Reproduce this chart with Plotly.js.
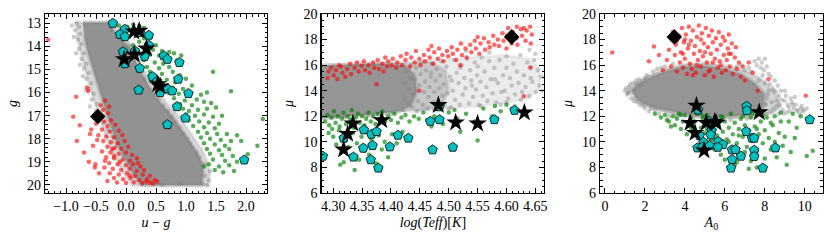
<!DOCTYPE html>
<html><head><meta charset="utf-8">
<script src="https://cdn.plot.ly/plotly-3.0.1.min.js"></script>
<style>html,body{margin:0;padding:0;background:#fff}#chart{width:831px;height:240px}</style>
</head><body><div id="chart"></div>
<script>
// ---------- Panel 1 : u-g vs g ----------
const p1GrayHalo = [[-0.86,12.95],[-0.2,12.95],[-0.05,13.5],[0.12,14.0],[0.22,14.5],[0.3,15.0],[0.42,15.5],[0.55,16.0],[0.7,16.5],[0.88,17.0],[1.02,17.5],[1.15,18.0],[1.28,18.5],[1.36,19.0],[1.4,19.5],[1.38,20.05],[0.1,20.05],[-0.05,19.5],[-0.15,19.0],[-0.25,18.5],[-0.33,18.0],[-0.4,17.5],[-0.46,17.0],[-0.52,16.5],[-0.58,16.0],[-0.64,15.5],[-0.69,15.0],[-0.74,14.5],[-0.79,14.0],[-0.83,13.5]];
const p1GrayCore = [[-0.72,12.98],[-0.28,12.98],[-0.16,13.5],[0.04,14.0],[0.14,14.5],[0.21,15.0],[0.34,15.5],[0.44,16.0],[0.59,16.5],[0.76,17.0],[0.9,17.5],[1.03,18.0],[1.16,18.5],[1.26,19.0],[1.29,19.5],[1.26,20.0],[0.26,20.0],[0.11,19.5],[0.01,19.0],[-0.09,18.5],[-0.18,18.0],[-0.25,17.5],[-0.31,17.0],[-0.38,16.5],[-0.44,16.0],[-0.5,15.5],[-0.55,15.0],[-0.61,14.5],[-0.66,14.0],[-0.7,13.5]];
const p1GrayPts = [[-0.82,13.0],[-0.78,13.15],[-0.85,13.3],[-0.76,13.45],[-0.80,13.7],[-0.74,13.9],[-0.78,14.1],[-0.70,14.3],[-0.74,14.55],[-0.66,14.75],[-0.70,14.95],[-0.62,15.15],[-0.66,15.4],[-0.58,15.6],[-0.62,15.85],[-0.54,16.05],[-0.57,16.3],[-0.48,16.5],[-0.50,16.8],[-0.42,17.0],[-0.38,17.3],[-0.30,17.6],[-0.22,17.9],[-0.15,18.3],[-0.05,18.7],[1.32,19.6],[1.38,19.8],[1.28,19.95],[1.40,19.4],[1.22,18.8],[1.10,18.4],[0.95,17.8],[1.02,18.0],[0.82,17.3],[0.70,16.8],[0.55,16.3],[0.45,15.9],[0.30,15.4],[0.25,14.9],[0.18,14.5],[0.05,14.0],[-0.15,13.6],[-0.25,13.3],[-0.9,13.1],[-0.87,13.6],[-0.83,14.3],[-0.77,14.8],[-0.72,15.3],[-0.67,15.9],[-0.6,16.6],[1.35,20.0],[0.9,19.95],[0.6,19.98],[1.3,19.1],[1.18,18.6],[1.06,18.2],[0.88,17.55],[0.76,17.05],[0.62,16.55],[0.48,16.1]];
const p1Red = [[-1.30,13.72],[-0.83,16.18],[-0.65,15.78],[-0.63,15.93],[-0.77,17.42],[-0.82,18.1],[-0.51,19.1],[-0.31,19.83],[-0.88,17.05],[-0.42,16.55],[-0.38,16.75],[-0.30,16.9],[-0.44,17.15],[-0.36,17.25],[-0.25,17.2],[-0.50,17.35],[-0.31,17.45],[-0.18,17.4],[-0.40,17.6],[-0.27,17.7],[-0.12,17.65],[-0.46,17.85],[-0.33,17.9],[-0.20,17.95],[-0.06,17.85],[-0.38,18.1],[-0.25,18.15],[-0.14,18.2],[-0.02,18.1],[-0.31,18.35],[-0.19,18.4],[-0.08,18.45],[0.04,18.35],[-0.40,18.55],[-0.26,18.6],[-0.12,18.65],[0.00,18.6],[0.10,18.7],[-0.33,18.8],[-0.20,18.85],[-0.05,18.9],[0.07,18.95],[0.18,18.85],[-0.28,19.05],[-0.14,19.1],[0.00,19.15],[0.12,19.1],[0.24,19.2],[-0.36,19.25],[-0.22,19.3],[-0.08,19.35],[0.06,19.3],[0.18,19.4],[0.30,19.35],[-0.27,19.5],[-0.12,19.55],[0.02,19.5],[0.15,19.6],[0.28,19.55],[0.40,19.6],[-0.20,19.7],[-0.05,19.75],[0.08,19.7],[0.22,19.8],[0.35,19.75],[0.48,19.8],[-0.15,19.9],[0.00,19.92],[0.13,19.88],[0.27,19.93],[0.40,19.9],[0.52,19.85],[-0.60,17.8],[-0.55,18.3],[-0.48,18.05],[-0.62,19.0],[-0.45,19.5],[-0.52,19.25],[-0.70,18.6],[-0.58,17.6],[-0.35,16.35],[-0.28,16.6],[-0.20,18.75],[0.20,19.05],[0.34,19.85],[0.45,19.95],[-0.10,19.0],[-0.35,18.95],[0.06,19.6],[-0.23,18.45]];
const p1Green = [[-0.22,13.05],[-0.12,13.1],[0.02,13.15],[0.12,13.05],[0.22,13.12],[0.30,13.2],[-0.05,13.3],[0.10,13.4],[0.25,13.35],[0.35,13.45],[0.18,13.55],[0.05,13.6],[0.30,13.65],[0.42,13.6],[0.22,13.8],[0.38,13.85],[0.50,13.95],[0.12,13.95],[0.30,14.05],[0.45,14.15],[0.60,14.2],[0.72,14.25],[0.20,14.25],[0.40,14.35],[0.55,14.4],[0.80,14.3],[0.92,14.4],[0.68,14.5],[0.85,14.6],[0.30,14.6],[0.48,14.7],[0.62,14.75],[0.35,14.9],[0.55,14.95],[0.72,14.9],[0.40,15.1],[0.60,15.2],[0.78,15.1],[0.90,15.25],[0.50,15.35],[0.68,15.45],[0.82,15.55],[1.45,15.1],[1.00,15.4],[0.58,15.6],[0.62,15.75],[0.78,15.8],[0.95,15.85],[1.10,15.7],[0.70,16.0],[0.88,16.05],[1.05,16.15],[1.25,16.1],[1.35,16.0],[1.75,15.95],[0.80,16.25],[0.98,16.35],[1.18,16.3],[1.30,16.4],[0.90,16.5],[1.10,16.55],[1.42,16.45],[0.95,16.7],[1.05,16.8],[1.20,16.75],[1.35,16.7],[1.50,16.65],[1.00,16.95],[1.15,17.0],[1.30,16.95],[1.45,17.05],[1.60,17.0],[1.05,17.2],[1.22,17.25],[1.38,17.3],[1.55,17.35],[2.28,17.15],[1.12,17.45],[1.30,17.5],[1.48,17.55],[1.20,17.7],[1.35,17.75],[1.52,17.8],[1.68,17.8],[1.85,17.85],[1.25,17.95],[1.40,18.0],[1.58,18.05],[1.75,18.1],[1.92,18.1],[1.30,18.2],[1.48,18.25],[1.65,18.3],[1.35,18.45],[1.55,18.5],[1.72,18.45],[2.19,18.3],[1.40,18.65],[1.60,18.7],[1.78,18.75],[2.03,18.67],[1.45,18.9],[1.65,18.95],[1.85,19.0],[1.38,19.1],[1.55,19.2],[1.72,19.15],[1.48,19.35],[1.62,19.45],[1.30,19.2],[1.80,19.4]];
const p1Cyan = [[-0.22,13.0],[-0.02,13.26],[-0.10,13.48],[-0.02,13.58],[0.23,13.40],[0.38,13.52],[0.38,13.95],[-0.05,14.23],[0.15,14.20],[0.31,14.44],[-0.02,14.75],[0.23,14.95],[0.63,14.41],[0.69,14.56],[0.89,14.70],[0.44,15.31],[0.52,15.51],[0.87,15.42],[0.21,15.89],[0.57,16.0],[0.69,15.83],[0.77,15.93],[1.04,16.04],[0.85,16.61],[0.99,17.10],[0.69,17.39],[1.97,18.92]];
const p1Star = [[0.13,13.36],[0.22,13.33],[0.34,14.10],[0.14,14.37],[-0.03,14.56],[0.53,15.64],[0.57,15.74]];
const p1Diamond = [[-0.47,17.04]];

// ---------- Panel 2 : log(Teff) vs mu ----------
const p2GrayOuter = [[4.44,12.35],[4.50,12.55],[4.55,12.75],[4.60,13.0],[4.64,13.4],[4.658,14.2],[4.658,15.8],[4.64,16.5],[4.60,16.8],[4.55,16.7],[4.50,16.5],[4.44,16.3]];
const p2GrayInner = [[4.28,11.82],[4.36,12.1],[4.42,12.3],[4.46,12.5],[4.49,12.9],[4.50,14.2],[4.495,15.6],[4.47,16.25],[4.40,16.2],[4.34,16.1],[4.28,16.0]];
const p2GrayCore = [[4.28,11.85],[4.33,12.0],[4.37,12.15],[4.41,12.35],[4.435,12.8],[4.445,14.0],[4.44,15.3],[4.425,16.0],[4.38,16.1],[4.33,16.05],[4.28,15.95]];
const p2GrayPts = [[4.421,12.5],[4.423,13.4],[4.425,14.6],[4.427,15.5],[4.429,13.0],[4.431,14.1],[4.433,15.0],[4.435,16.0],[4.437,12.7],[4.439,13.7],[4.441,14.9],[4.443,15.8],[4.445,12.4],[4.447,13.2],[4.449,14.4],[4.451,15.3],[4.453,16.2],[4.455,12.9],[4.457,13.9],[4.459,14.7],[4.461,15.6],[4.463,12.6],[4.465,13.5],[4.467,14.3],[4.469,15.1],[4.471,16.1],[4.473,13.1],[4.475,13.9],[4.477,14.8],[4.479,15.7],[4.481,12.8],[4.483,14.2],[4.485,15.2],[4.487,16.3],[4.489,13.6],[4.491,14.5],[4.493,12.9],[4.496,15.9],[4.498,13.8],[4.502,15.1],[4.504,12.7],[4.507,14.0],[4.509,16.4],[4.511,13.3],[4.514,15.4],[4.517,14.6],[4.519,12.9],[4.522,16.0],[4.524,13.7],[4.527,15.0],[4.529,14.2],[4.532,16.5],[4.535,13.0],[4.537,15.6],[4.539,14.8],[4.542,13.5],[4.545,16.2],[4.547,14.1],[4.549,15.2],[4.552,12.9],[4.555,14.7],[4.557,16.6],[4.559,13.6],[4.562,15.5],[4.565,14.3],[4.567,13.2],[4.570,16.3],[4.573,14.9],[4.576,13.8],[4.579,15.8],[4.582,13.1],[4.585,14.6],[4.588,16.4],[4.591,13.9],[4.594,15.2],[4.597,14.0],[4.600,16.7],[4.603,13.4],[4.606,15.0],[4.609,14.4],[4.612,16.1],[4.615,13.7],[4.618,15.5],[4.621,14.6],[4.624,16.8],[4.627,13.9],[4.630,15.2],[4.633,14.3],[4.636,16.2],[4.639,13.6],[4.642,15.0],[4.645,14.7],[4.648,16.4],[4.651,13.9],[4.654,15.6],[4.657,14.4],[4.660,15.1],[4.662,14.0],[4.650,16.9],[4.640,17.2],[4.600,13.1],[4.570,17.0],[4.530,17.1],[4.615,12.8],[4.625,13.3],[4.59,12.9],[4.555,12.8],[4.50,12.6],[4.475,12.5],[4.58,14.9],[4.54,14.4],[4.47,15.4],[4.52,15.8],[4.60,15.8],[4.64,15.8],[4.505,14.8],[4.55,15.9],[4.285,12.0],[4.3,15.95],[4.32,11.9],[4.36,12.05],[4.40,12.2]];
const p2Red = [[4.290,15.0],[4.292,15.5],[4.296,15.8],[4.301,15.2],[4.305,15.6],[4.307,14.9],[4.313,15.9],[4.316,15.4],[4.321,15.1],[4.324,15.7],[4.329,16.1],[4.331,15.3],[4.337,15.8],[4.341,16.2],[4.344,15.5],[4.349,15.95],[4.353,16.3],[4.355,15.6],[4.361,16.0],[4.363,15.4],[4.369,16.2],[4.371,15.8],[4.377,16.4],[4.379,15.7],[4.385,16.1],[4.387,15.5],[4.393,15.9],[4.395,16.3],[4.401,16.0],[4.403,16.5],[4.409,15.8],[4.411,16.2],[4.417,16.7],[4.419,16.0],[4.425,16.4],[4.427,16.9],[4.433,15.9],[4.435,16.6],[4.441,16.2],[4.443,17.1],[4.449,16.5],[4.451,16.0],[4.457,16.8],[4.459,16.3],[4.465,17.2],[4.467,16.6],[4.473,16.1],[4.475,17.0],[4.481,16.5],[4.483,17.3],[4.489,16.8],[4.491,16.3],[4.497,17.1],[4.499,16.7],[4.505,17.4],[4.507,16.9],[4.513,16.4],[4.515,17.2],[4.521,17.7],[4.523,16.8],[4.529,17.3],[4.531,16.6],[4.537,17.6],[4.539,17.0],[4.545,17.9],[4.547,17.3],[4.553,16.9],[4.555,17.7],[4.561,18.1],[4.563,17.2],[4.569,17.8],[4.571,17.4],[4.577,18.3],[4.579,17.6],[4.585,18.0],[4.587,17.5],[4.593,18.5],[4.595,17.9],[4.601,18.3],[4.603,18.9],[4.609,17.7],[4.611,18.6],[4.617,18.1],[4.619,17.6],[4.625,18.8],[4.627,18.3],[4.633,17.9],[4.635,18.7],[4.641,19.0],[4.644,18.4],[4.642,17.7],[4.630,18.9],[4.618,19.0],[4.449,14.0],[4.63,13.56],[4.642,15.82],[4.375,14.5],[4.52,16.0],[4.31,16.0],[4.47,17.5],[4.55,18.2],[4.60,17.3],[4.39,16.6]];
const p2Green = [[4.286,11.6],[4.290,12.1],[4.293,11.3],[4.297,11.9],[4.301,12.4],[4.304,11.5],[4.308,12.0],[4.311,11.2],[4.315,11.8],[4.318,12.3],[4.322,11.4],[4.325,12.0],[4.329,11.7],[4.332,12.5],[4.336,11.1],[4.339,11.9],[4.343,12.2],[4.346,11.5],[4.350,12.0],[4.354,11.3],[4.357,11.8],[4.361,12.3],[4.365,11.6],[4.369,12.0],[4.373,11.4],[4.377,12.2],[4.381,11.8],[4.385,12.4],[4.390,11.6],[4.395,12.0],[4.400,11.7],[4.406,12.2],[4.412,11.5],[4.418,11.9],[4.425,12.1],[4.432,11.6],[4.440,12.0],[4.448,11.8],[4.456,12.3],[4.463,11.7],[4.300,10.4],[4.305,9.8],[4.310,10.9],[4.314,9.2],[4.318,8.4],[4.322,10.1],[4.326,9.6],[4.330,8.9],[4.334,10.7],[4.337,7.8],[4.341,9.9],[4.345,8.6],[4.349,10.4],[4.353,9.3],[4.357,10.8],[4.362,9.0],[4.366,10.2],[4.370,9.7],[4.374,8.3],[4.379,10.5],[4.384,9.4],[4.389,10.0],[4.395,8.8],[4.402,10.6],[4.410,9.9],[4.420,10.8],[4.298,11.0],[4.292,10.7],[4.312,8.2],[4.475,12.0],[4.49,11.4],[4.50,12.3],[4.515,11.8],[4.53,12.2],[4.545,11.6],[4.56,12.6],[4.575,12.0],[4.59,12.4],[4.60,12.9],[4.52,10.8],[4.55,10.1],[4.47,11.2],[4.51,12.5],[4.58,12.8],[4.61,12.6]];
const p2Cyan = [[4.282,8.88],[4.318,10.29],[4.335,8.81],[4.353,10.94],[4.352,9.51],[4.366,10.60],[4.375,10.81],[4.368,9.72],[4.365,8.60],[4.378,7.95],[4.398,9.61],[4.412,10.52],[4.430,10.29],[4.468,11.61],[4.484,11.74],[4.484,12.75],[4.472,9.38],[4.507,9.58],[4.579,11.74],[4.614,12.47]];
const p2Star = [[4.318,9.40],[4.325,10.62],[4.334,11.43],[4.384,11.69],[4.482,12.88],[4.512,11.51],[4.55,11.43],[4.631,12.29]];
const p2Diamond = [[4.609,18.21]];

// ---------- Panel 3 : A0 vs mu ----------
const p3GrayMid = [[1.1,14.0],[1.5,14.6],[2.2,15.2],[3.0,15.7],[4.0,16.1],[5.0,16.2],[6.0,16.0],[7.0,15.6],[7.8,15.0],[8.3,14.2],[8.7,13.4],[8.8,12.7],[8.4,12.2],[7.6,11.95],[6.5,11.8],[5.0,11.85],[4.0,11.95],[3.0,12.3],[2.0,12.8],[1.4,13.4]];
const p3GrayCore = [[1.3,14.0],[1.8,14.7],[2.5,15.2],[3.2,15.6],[4.0,15.9],[5.0,15.95],[6.0,15.7],[6.8,15.3],[7.5,14.6],[8.0,13.7],[7.9,12.8],[7.3,12.2],[6.5,12.0],[5.5,11.95],[4.5,12.05],[3.5,12.3],[2.6,12.6],[1.9,13.0],[1.5,13.5]];
const p3GrayPts = [[1.0,14.0],[1.1,13.7],[1.2,14.3],[1.3,13.4],[1.4,14.6],[1.6,13.1],[1.7,14.9],[1.9,12.8],[2.1,15.2],[2.3,12.6],[2.0,15.0],[7.9,12.6],[8.1,13.4],[8.3,12.4],[8.4,14.2],[8.6,12.8],[8.7,13.6],[8.9,12.5],[9.0,13.2],[9.2,12.7],[9.4,12.9],[9.6,12.4],[9.8,12.6],[8.2,15.3],[8.0,16.5],[7.8,15.8],[8.5,14.8],[7.6,16.0],[9.1,12.3],[8.8,14.0],[7.5,16.3],[2.6,15.7],[3.0,15.9],[1.2,13.9],[1.5,14.1],[8.0,14.6],[7.9,15.2],[8.6,13.2],[9.3,13.4],[9.9,12.4],[8.1,12.2],[7.0,15.6],[6.6,15.9],[2.2,12.4],[3.2,12.0],[1.8,14.4],[7.3,15.5],[7.7,14.8],[8.2,14.0],[8.0,13.0],[2.5,12.5],[1.6,14.5],[8.05,12.9],[8.15,13.7],[8.25,14.5],[8.35,13.1],[8.45,12.6],[8.55,13.9],[8.65,14.4],[8.75,12.9],[8.85,13.3],[8.95,12.2],[9.05,13.6],[9.15,12.9],[9.25,12.4],[9.35,13.1],[9.45,12.6],[9.55,12.9],[9.65,12.5],[9.75,12.2],[9.85,12.8],[9.95,12.5],[7.85,16.2],[7.95,15.6],[8.1,15.9],[8.3,15.1],[8.45,14.0],[7.7,16.5],[7.2,15.8],[6.8,16.0],[1.05,14.2],[1.15,13.8],[1.25,14.5],[1.45,13.2],[1.55,14.8],[1.75,12.9],[2.4,15.5],[2.8,15.8],[3.4,16.1],[2.0,12.6],[2.7,12.2],[3.6,12.0],[4.4,11.8],[5.4,11.7],[6.3,11.7],[7.1,11.8],[8.7,12.2],[9.0,14.0],[9.5,13.5],[10.1,12.6]];
const p3Red = [[3.1,16.4],[3.2,17.2],[3.3,15.9],[3.4,18.6],[3.5,16.8],[3.55,17.6],[3.6,15.5],[3.7,18.3],[3.75,16.2],[3.8,17.0],[3.85,18.9],[3.9,15.8],[3.95,17.8],[4.0,16.5],[4.05,18.4],[4.1,15.3],[4.15,17.3],[4.2,19.0],[4.25,16.1],[4.3,17.9],[4.35,15.7],[4.4,18.7],[4.45,16.9],[4.5,17.5],[4.55,15.4],[4.6,18.2],[4.65,16.4],[4.7,19.1],[4.75,17.1],[4.8,15.9],[4.85,18.5],[4.9,16.7],[4.95,17.7],[5.0,15.2],[5.05,18.9],[5.1,16.2],[5.15,17.4],[5.2,18.3],[5.25,15.6],[5.3,16.9],[5.35,18.7],[5.4,17.8],[5.45,15.1],[5.5,16.5],[5.55,18.1],[5.6,17.2],[5.65,15.8],[5.7,18.6],[5.75,16.3],[5.8,17.6],[5.85,15.4],[5.9,18.2],[5.95,16.8],[6.0,17.9],[6.05,15.6],[6.1,16.4],[6.15,17.3],[6.2,18.4],[6.25,15.9],[6.3,16.9],[6.35,17.7],[6.4,15.3],[6.5,16.6],[6.55,17.4],[6.6,15.7],[6.7,16.2],[6.8,15.1],[6.9,15.9],[7.0,14.8],[4.6,16.0],[5.0,17.0],[5.4,16.2],[4.2,17.6],[3.9,16.9],[4.8,18.0],[5.8,16.0],[6.2,16.9],[5.2,15.5],[4.4,15.2],[3.6,17.9],[4.0,18.0],[0.36,16.99],[2.45,17.45],[2.2,16.3],[2.9,15.6],[10.05,13.6],[7.64,14.0],[8.18,14.9],[7.4,15.4],[7.2,16.2],[2.7,16.8]];
const p3Green = [[2.5,12.2],[2.8,11.9],[3.0,12.1],[3.2,11.6],[3.4,12.0],[3.5,11.3],[3.6,11.8],[3.7,12.2],[3.8,11.0],[3.9,11.6],[4.0,12.1],[4.1,10.6],[4.2,11.4],[4.3,11.9],[4.4,10.9],[4.5,11.6],[4.6,12.2],[4.7,10.3],[4.8,11.1],[4.9,11.8],[5.0,10.7],[5.1,12.1],[5.2,11.4],[5.3,10.1],[5.4,11.0],[5.5,11.9],[5.6,10.5],[5.7,11.3],[5.8,12.0],[5.9,10.8],[6.0,11.6],[6.1,10.2],[6.2,11.1],[6.3,12.2],[6.4,10.6],[6.5,11.5],[6.6,9.9],[6.7,11.0],[6.8,11.8],[6.9,10.4],[7.0,11.3],[7.1,9.6],[7.2,10.9],[7.3,11.9],[7.4,10.1],[7.5,11.2],[7.6,9.3],[7.7,10.6],[7.8,11.6],[7.9,9.9],[8.0,10.9],[8.1,11.9],[8.2,10.3],[8.3,9.4],[8.4,11.3],[8.5,10.0],[8.6,8.8],[8.7,10.7],[8.8,11.6],[8.9,9.7],[9.0,10.4],[9.1,8.2],[9.2,11.6],[9.3,9.2],[9.5,10.3],[9.6,11.1],[10.1,8.9],[10.4,9.3],[9.8,12.0],[9.4,12.2],[5.5,9.4],[5.8,9.0],[6.0,8.6],[6.3,9.5],[6.5,8.2],[6.8,8.9],[7.0,9.2],[7.3,8.5],[7.6,8.0],[7.2,7.9],[6.6,8.4],[8.0,8.7],[3.3,11.2],[4.5,10.5],[4.9,12.0],[5.5,10.2],[6.2,10.0],[6.9,12.0],[7.4,12.2],[7.9,12.1],[8.5,12.0],[8.8,12.3],[3.8,12.1],[4.3,11.1],[5.1,11.0],[5.9,11.9],[6.7,10.5],[7.6,11.0],[8.3,11.5],[3.1,11.7]];
const p3Cyan = [[4.66,12.49],[5.21,11.61],[5.34,10.88],[5.29,10.55],[4.74,10.49],[4.93,9.97],[4.63,9.53],[4.88,9.58],[5.24,9.71],[5.67,10.03],[5.90,9.79],[5.65,9.58],[6.36,9.38],[6.53,9.40],[6.36,8.62],[6.31,7.95],[6.81,8.88],[7.09,12.78],[7.11,12.44],[7.07,10.81],[7.36,10.29],[7.47,10.29],[7.47,9.35],[7.47,8.86],[7.90,7.95],[8.53,9.53],[10.25,11.74]];
const p3Star = [[4.58,12.83],[4.26,11.48],[5.07,11.48],[5.50,11.58],[5.57,11.48],[4.51,10.70],[4.96,9.32],[7.72,12.31]];
const p3Diamond = [[3.47,18.21]];

// ---------- axis labels ----------
const xTitles = ['<i>u</i> − <i>g</i>', '<i>log</i>(<i>Teff</i>)[<i>K</i>]', '<i>A</i><sub>0</sub>'];
const yTitles = ['<i>g</i>', '<i>μ</i>', '<i>μ</i>'];

const X = a => a.map(p => p[0]);
const Y = a => a.map(p => p[1]);
const GRAY = '#808080';

function panel(n, layers, grayPts, red, green, cyan, star, diamond) {
  const xa = n === 1 ? 'x' : 'x' + n, ya = n === 1 ? 'y' : 'y' + n;
  const t = [];
  layers.forEach(([poly, op]) => {
    t.push({x: X(poly), y: Y(poly), xaxis: xa, yaxis: ya, type: 'scatter', mode: 'lines', fill: 'toself',
      fillcolor: 'rgba(128,128,128,' + op + ')', line: {width: 4, color: 'rgba(128,128,128,' + (op * 0.4).toFixed(3) + ')'}, hoverinfo: 'skip'});
  });
  t.push({x: X(grayPts), y: Y(grayPts), xaxis: xa, yaxis: ya, type: 'scatter', mode: 'markers', marker: {color: GRAY, size: 4.5, opacity: 0.4}});
  t.push({x: X(red), y: Y(red), xaxis: xa, yaxis: ya, type: 'scatter', mode: 'markers', marker: {color: '#ff0000', size: 4.5, opacity: 0.6}});
  t.push({x: X(green), y: Y(green), xaxis: xa, yaxis: ya, type: 'scatter', mode: 'markers', marker: {color: '#008000', size: 4.5, opacity: 0.65}});
  t.push({x: X(cyan), y: Y(cyan), xaxis: xa, yaxis: ya, type: 'scatter', mode: 'markers', marker: {symbol: 'pentagon', color: '#00bfbf', size: 10, line: {color: '#000', width: 0.8}}});
  t.push({x: X(star), y: Y(star), xaxis: xa, yaxis: ya, type: 'scatter', mode: 'markers', marker: {symbol: 'star', color: '#000', size: 14}});
  t.push({x: X(diamond), y: Y(diamond), xaxis: xa, yaxis: ya, type: 'scatter', mode: 'markers', marker: {symbol: 'diamond', color: '#000', size: 12}});
  return t;
}

const data = [].concat(
  panel(1, [[p1GrayHalo, 0.3], [p1GrayCore, 0.8]], p1GrayPts, p1Red, p1Green, p1Cyan, p1Star, p1Diamond),
  panel(2, [[p2GrayOuter, 0.16], [p2GrayInner, 0.35], [p2GrayCore, 0.75]], p2GrayPts, p2Red, p2Green, p2Cyan, p2Star, p2Diamond),
  panel(3, [[p3GrayMid, 0.35], [p3GrayCore, 0.75]], p3GrayPts, p3Red, p3Green, p3Cyan, p3Star, p3Diamond)
);

const FONT = 'Liberation Serif';
function ax(extra) {
  return Object.assign({
    showline: true, linecolor: '#000', linewidth: 1.3, mirror: 'allticks',
    ticks: 'inside', ticklen: 5, tickwidth: 1, tickcolor: '#000',
    showgrid: false, zeroline: false, automargin: false,
    tickfont: {family: FONT, size: 14, color: '#000'}
  }, extra);
}
const minor = d => ({dtick: d, ticks: 'inside', ticklen: 2.5, tickcolor: '#000', showgrid: false});
const ttl = (s, st) => ({text: s, font: {size: 14, family: FONT, color: '#000'}, standoff: st});
const W = 831;
const layout = {
  width: 831, height: 240, showlegend: false,
  paper_bgcolor: '#fff', plot_bgcolor: '#fff',
  margin: {l: 0, r: 0, t: 14, b: 47},
  font: {family: FONT, color: '#000'},
  xaxis: ax({domain: [45/W, 267/W], anchor: 'y', range: [-1.35, 2.35], dtick: 0.5, tick0: 0, tickformat: '.1f', minor: minor(0.1), title: ttl(xTitles[0], 4)}),
  yaxis: ax({domain: [0, 1], anchor: 'x', range: [20.35, 12.6], dtick: 1, minor: minor(0.2), title: ttl(yTitles[0], 6)}),
  xaxis2: ax({domain: [321.7/W, 544/W], anchor: 'y2', range: [4.28, 4.665], dtick: 0.05, tick0: 4.3, tickformat: '.2f', minor: minor(0.01), title: ttl(xTitles[1], 4)}),
  yaxis2: ax({domain: [0, 1], anchor: 'x2', range: [6, 20], dtick: 2, minor: minor(0.5), title: ttl(yTitles[1], 6)}),
  xaxis3: ax({domain: [600/W, 822.7/W], anchor: 'y3', range: [-0.25, 10.9], dtick: 2, tick0: 0, minor: minor(0.5), title: ttl(xTitles[2], 4)}),
  yaxis3: ax({domain: [0, 1], anchor: 'x3', range: [6, 20], dtick: 2, minor: minor(0.5), title: ttl(yTitles[2], 6)})
};
Plotly.newPlot('chart', data, layout, {staticPlot: true, displayModeBar: false});
</script></body></html>
